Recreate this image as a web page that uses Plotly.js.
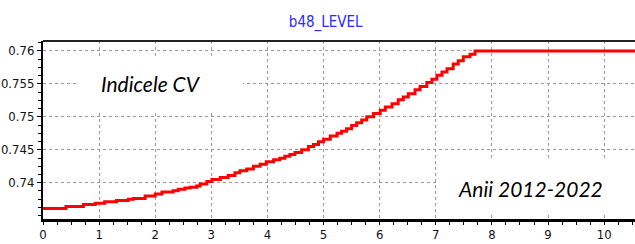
<!DOCTYPE html>
<html>
<head>
<meta charset="utf-8">
<script src="https://cdn.plot.ly/plotly-3.0.1.min.js"></script>
<style>html,body{margin:0;padding:0;background:#fff;}#chart{width:635px;height:244px;}</style>
</head>
<body>
<div id="chart"></div>
<script>
// Time (years since 2012) and b48_LEVEL values
const timeYears = [0, 0.41, 0.72, 0.93, 1.10, 1.31, 1.52, 1.61, 1.82, 2.00, 2.12, 2.32, 2.41, 2.53, 2.62, 2.74, 2.80, 2.92, 3.01, 3.16, 3.30, 3.42, 3.51, 3.63, 3.75, 3.87, 3.98, 4.11, 4.22, 4.31, 4.40, 4.49, 4.61, 4.73, 4.82, 4.91, 5.00, 5.12, 5.24, 5.32, 5.41, 5.50, 5.59, 5.68, 5.77, 5.89, 6.01, 6.10, 6.22, 6.33, 6.42, 6.51, 6.63, 6.72, 6.84, 6.93, 7.02, 7.11, 7.20, 7.31, 7.40, 7.49, 7.61, 7.70, 10.6];
const levelValues = [0.7361, 0.7364, 0.7367, 0.7369, 0.7371, 0.7373, 0.7375, 0.7376, 0.7380, 0.7383, 0.7386, 0.7388, 0.7390, 0.7392, 0.7393, 0.7395, 0.7398, 0.7402, 0.7405, 0.7408, 0.7411, 0.7415, 0.7418, 0.7421, 0.7425, 0.7428, 0.7432, 0.7435, 0.7437, 0.7440, 0.7443, 0.7446, 0.7450, 0.7455, 0.7458, 0.7462, 0.7466, 0.7471, 0.7475, 0.7478, 0.7482, 0.7487, 0.7491, 0.7495, 0.7500, 0.7505, 0.7510, 0.7515, 0.7520, 0.7526, 0.7530, 0.7535, 0.7541, 0.7546, 0.7552, 0.7557, 0.7563, 0.7568, 0.7573, 0.7580, 0.7585, 0.7591, 0.7595, 0.7600, 0.7600];
const xTickVals = [0, 1, 2, 3, 4, 5, 6, 7, 8, 9, 10];
const xTickText = ["0", "1", "2", "3", "4", "5", "6", "7", "8", "9", "10"];
const yTickVals = [0.74, 0.745, 0.75, 0.755, 0.76];
const yTickText = ["0.74", "0.745", "0.75", "0.755", "0.76"];
const chartTitle = "b48_LEVEL";
const labelIndex = "Indicele CV";
const labelYears = "Anii 2012-2022";

const narrow = "'Liberation Sans Narrow', 'Arial Narrow', 'DejaVu Sans Condensed', sans-serif";

const trace = {
  x: timeYears, y: levelValues, type: 'scatter', mode: 'lines',
  line: {color: '#ff0000', width: 3, shape: 'hv'},
  hoverinfo: 'skip', showlegend: false
};

const layout = {
  width: 635, height: 244,
  margin: {l: 43, r: 0, t: 41, b: 25, pad: 0},
  paper_bgcolor: '#ffffff', plot_bgcolor: '#ffffff',
  title: {text: chartTitle, x: 0.513, xref: 'container', y: 0.91, yref: 'container', yanchor: 'middle',
          font: {family: narrow, size: 15, color: '#2a2aff'}},
  xaxis: {
    range: [0, 10.55], tickvals: xTickVals, ticktext: xTickText,
    showline: true, linecolor: '#000', linewidth: 3,
    ticks: 'outside', ticklen: 3, tickcolor: '#000', tickwidth: 1,
    ticklabelstandoff: -2,
    showgrid: true, gridcolor: '#9a9a9a', griddash: 'dot', gridwidth: 1,
    zeroline: false, tickfont: {family: narrow, size: 13, color: '#111'},
    minor: {dtick: 0.25, tick0: 0, ticks: 'outside', ticklen: 3, tickcolor: '#000', showgrid: false}
  },
  yaxis: {
    range: [0.7345, 0.7615], tickvals: yTickVals, ticktext: yTickText,
    showline: true, linecolor: '#000', linewidth: 2,
    ticks: 'outside', ticklen: 4, tickcolor: '#000', tickwidth: 1,
    showgrid: true, gridcolor: '#9a9a9a', griddash: 'dot', gridwidth: 1,
    zeroline: false, tickfont: {family: narrow, size: 13, color: '#111'},
    minor: {dtick: 0.00125, tick0: 0.74, ticks: 'outside', ticklen: 3, tickcolor: '#000', showgrid: false}
  },
  shapes: [
    {type: 'line', xref: 'paper', yref: 'paper', x0: 0, x1: 1, y0: 1, y1: 1, line: {color: '#222', width: 2}, layer: 'above'},
    {type: 'rect', xref: 'x', yref: 'y', x0: 0.64, x1: 3.565, y0: 0.7510, y1: 0.7592, fillcolor: '#fff', line: {width: 0}, layer: 'between'},
    {type: 'rect', xref: 'x', yref: 'y', x0: 7.005, x1: 10.6, y0: 0.73556, y1: 0.74344, fillcolor: '#fff', line: {width: 0}, layer: 'between'}
  ],
  annotations: [
    {text: labelIndex, x: 1.925, y: 0.75505, xref: 'x', yref: 'y', showarrow: false,
     xanchor: 'center', yanchor: 'middle', font: {family: 'Lato, sans-serif', size: 21, color: '#000', style: 'italic'}},
    {text: labelYears, x: 8.68, y: 0.7392, xref: 'x', yref: 'y', showarrow: false,
     xanchor: 'center', yanchor: 'middle', font: {family: 'Lato, sans-serif', size: 21, color: '#000', style: 'italic'}}
  ]
};

Plotly.newPlot('chart', [trace], layout, {staticPlot: true, displayModeBar: false});
</script>
</body>
</html>
